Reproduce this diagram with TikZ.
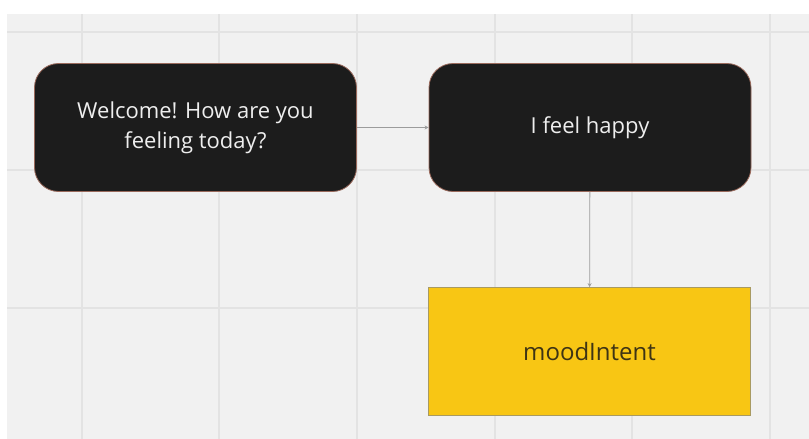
\documentclass[tikz,border=0pt]{standalone}
\usepackage{fontspec}
\setmainfont{Open Sans}
\usetikzlibrary{arrows.meta}

\definecolor{board}{HTML}{F1F1F1}
\definecolor{gridline}{HTML}{E3E3E3}
\definecolor{cardfill}{HTML}{1C1C1C}
\definecolor{cardedge}{HTML}{9A6A5C}
\definecolor{cardtext}{HTML}{EEEEEE}
\definecolor{stickyfill}{HTML}{F8C614}
\definecolor{stickyedge}{HTML}{A89A62}
\definecolor{stickytext}{HTML}{3E3414}
\definecolor{linkgray}{HTML}{9C9C9C}

\tikzset{
card/.style={draw=cardedge, fill=cardfill, line width=0.8pt,
  rounded corners=24pt, minimum width=322pt, minimum height=128pt,
  text=cardtext, align=center, font=\fontsize{22}{30}\selectfont},
sticky/.style={draw=stickyedge, fill=stickyfill, line width=0.8pt,
  minimum width=322pt, minimum height=128pt,
  text=stickytext, font=\fontsize{24}{30}\selectfont},
link/.style={draw=linkgray, line width=0.8pt,
  -{Stealth[length=4pt,width=4pt]}}
}

\begin{document}
\begin{tikzpicture}[x=1pt,y=-1pt]

% Board
\useasboundingbox (0,0) rectangle (809,439);
\fill[white] (0,0) rectangle (809,439);
\fill[board] (7,14) rectangle (809,439);

\foreach \x in {82,219,357,495,632,770}
{
\draw[gridline, line width=1.2pt] (\x,14) -- (\x,439);
}
\foreach \y in {32,170,308}
{
\draw[gridline, line width=1.2pt] (7,\y) -- (809,\y);
}

% Cards
\node[card] (welcome) at (195.5,127.5)
{Welcome! How are you\\feeling today?};

\node[card] (happy) at (590,127.5)
{I feel happy};

% Intent
\node[sticky] (mood) at (589.5,351.5)
{moodIntent};

% Links
\draw[link] (welcome) -- (happy);
\draw[link] (happy) -- (mood);

\end{tikzpicture}
\end{document}
